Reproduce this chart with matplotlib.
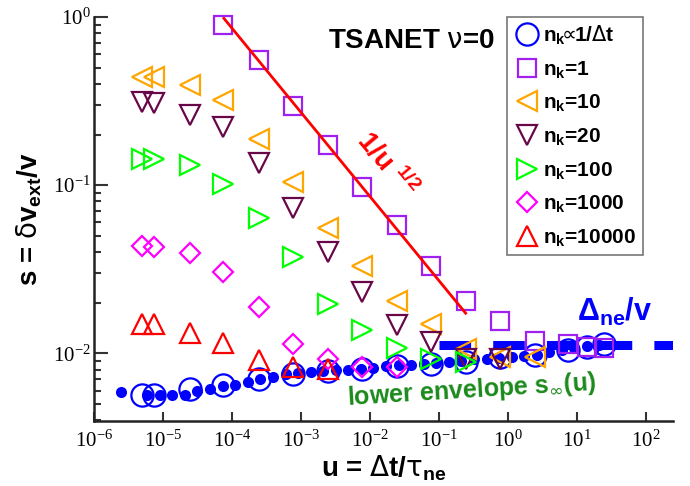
import matplotlib
matplotlib.use('Agg')
import matplotlib.pyplot as plt
from matplotlib.font_manager import FontProperties
from matplotlib.ticker import LogLocator, NullLocator

plt.rcParams['font.family'] = ['Liberation Serif', 'DejaVu Serif']
plt.rcParams['mathtext.fontset'] = 'dejavusans'

# time steps u = dt/tau_ne shared by the n_k series
u_vals = [4.96e-6, 7.41e-6, 2.46e-5, 7.5e-5, 2.46e-4, 7.66e-4, 2.46e-3, 7.66e-3,
          2.46e-2, 7.66e-2, 0.246, 0.766, 2.46, 7.41, 14.0, 24.6]

# n_k ~ 1/dt (open circles)
s_inv = [0.00562, 0.00568, 0.00615, 0.00645, 0.0070, 0.00757, 0.00784, 0.0081,
         0.00837, 0.00868, 0.00887, 0.0095, 0.0098, 0.0104, 0.0109, 0.0113]
# n_k = 1 (starts at 4th u value)
s_nk1 = [0.896, 0.555, 0.295, 0.174, 0.0977, 0.0578, 0.033, 0.0204, 0.0156,
         0.0119, 0.0113, 0.0109, 0.0107]
s_nk10 = [0.438, 0.438, 0.394, 0.321, 0.187, 0.105, 0.0552, 0.033, 0.0204,
          0.0149, 0.0106, 0.0095, 0.0095]
s_nk20 = [0.312, 0.306, 0.261, 0.222, 0.135, 0.0727, 0.0401, 0.0231, 0.0147,
          0.0117, 0.0093, 0.0092]
s_nk100 = [0.143, 0.143, 0.1315, 0.1014, 0.0633, 0.0376, 0.0197, 0.0137, 0.0107,
           0.0093, 0.0089]
s_nk1000 = [0.0434, 0.0430, 0.0392, 0.0305, 0.0189, 0.0114, 0.0092, 0.0083, 0.0083]
s_nk10000 = [0.0150, 0.0149, 0.0131, 0.0115, 0.0091, 0.0083, 0.0081]

# lower envelope s_inf(u) (filled dots)
u_dots = [2.46e-6, 5.92e-6, 9.02e-6, 1.37e-5, 2.08e-5, 3.17e-5, 4.83e-5, 7.36e-5,
          1.12e-4, 1.71e-4, 2.6e-4, 3.94e-4, 6.0e-4, 9.14e-4, 1.39e-3, 2.11e-3,
          3.22e-3, 4.88e-3, 7.43e-3, 0.0113, 0.0172, 0.0262, 0.0398, 0.0606,
          0.0923, 0.1405, 0.213, 0.325, 0.495, 0.753, 1.14, 1.74, 2.65, 4.02,
          6.12, 9.32, 14.2, 21.5]
s_dots = [0.00588, 0.00568, 0.00562, 0.00562, 0.00568, 0.00594, 0.00616, 0.00636,
          0.00651, 0.00675, 0.0070, 0.00717, 0.00757, 0.00765, 0.00774, 0.00781,
          0.00792, 0.0080, 0.00808, 0.00822, 0.00837, 0.00848, 0.00848, 0.0086,
          0.00875, 0.00887, 0.00896, 0.00921, 0.0093, 0.00938, 0.00951, 0.00964,
          0.00973, 0.0101, 0.0104, 0.01067, 0.0110, 0.01126]

# 1/u^(1/2) guide line and Delta_ne/v level
u_fit = [7.66e-5, 0.246]
s_fit = [0.982, 0.0173]
u_delta = [0.1, 1000.0]
s_delta = 0.0112

fig = plt.figure(figsize=(6.9, 4.86), dpi=100)
ax = fig.add_axes([0.1362, 0.1337, 0.8391, 0.8313])
ax.set_xscale('log')
ax.set_yscale('log')

ax.plot(u_dots, s_dots, 'o', color='#0000ff', ms=8, mec='none', zorder=2)
ax.plot(u_delta, [s_delta, s_delta], color='#0000ff', lw=6.5,
        dashes=(3.5, 2.45), solid_capstyle='butt', zorder=2.5)

mk = dict(ls='none', mfc='none', mew=1.6, zorder=3, clip_on=False)
ax.plot(u_vals, s_inv, 'o', mec='#0000ff', ms=16,
        label='n$_\\mathregular{k}$$\\!\\!\\propto\\!\\!$1/$\\mathrm{\\Delta}$t', **mk)
ax.plot(u_vals[3:], s_nk1, 's', mec='#a020f0', ms=13.5,
        label='n$_\\mathregular{k}$=1', **mk)
ax.plot(u_vals[:len(s_nk10)], s_nk10, '<', mec='#ffa500', ms=14,
        label='n$_\\mathregular{k}$=10', **mk)
ax.plot(u_vals[:len(s_nk20)], s_nk20, 'v', mec='#670748', ms=14,
        label='n$_\\mathregular{k}$=20', **mk)
ax.plot(u_vals[:len(s_nk100)], s_nk100, '>', mec='#00ff00', ms=14,
        label='n$_\\mathregular{k}$=100', **mk)
ax.plot(u_vals[:len(s_nk1000)], s_nk1000, 'D', mec='#ff00ff', ms=10,
        label='n$_\\mathregular{k}$=1000', **mk)
ax.plot(u_vals[:len(s_nk10000)], s_nk10000, '^', mec='#ff0000', ms=14,
        label='n$_\\mathregular{k}$=10000', **mk)

ax.plot(u_fit, s_fit, color='#ff0000', lw=2, zorder=4)

ax.set_xlim(1e-6, 250)
ax.set_ylim(0.00395, 1.0)

sans = ['Liberation Sans', 'DejaVu Sans']
ax.set_xlabel('u = $\\mathrm{\\Delta}$t/$\\mathrm{\\tau}_\\mathregular{ne}$',
              family=sans, weight='bold', fontsize=20, va='baseline')
ax.xaxis.set_label_coords(0.5, -0.136)
ax.set_ylabel('s = $\\mathrm{\\delta}$v$_\\mathregular{ext}$/v', family=sans,
              weight='bold', fontsize=20, va='center')
ax.yaxis.set_label_coords(-0.112, 0.5)

ax.text(0.404, 0.923, 'TSANET $\\mathrm{\\nu}$=0', transform=ax.transAxes,
        family=sans, weight='bold', fontsize=20, va='baseline')
ax.text(0.506, 0.636, '1/u $^\\mathregular{1/2}$', transform=ax.transAxes,
        family=sans, weight='bold', fontsize=20, color='#ff0000',
        rotation=-50, rotation_mode='anchor', ha='center', va='center')
ax.text(0.834, 0.2475, 'Δ$_\\mathregular{ne}$/v', transform=ax.transAxes,
        family=sans, weight='bold', fontsize=22, color='#0000ff', va='baseline')
ax.text(0.653, 0.077, 'lower envelope s$_\\infty$(u)', transform=ax.transAxes,
        family=sans, weight='bold', fontsize=18, color='#1b8a1b',
        rotation=3.5, rotation_mode='anchor', ha='center', va='center')

leg = ax.legend(loc='upper left', bbox_to_anchor=(0.713, 1.0),
                prop=FontProperties(family=sans, weight='bold', size=15),
                numpoints=1, fancybox=False, framealpha=1, borderpad=0.3,
                labelspacing=0.58, handlelength=1.3, handletextpad=0.15,
                borderaxespad=0)
leg.get_frame().set_edgecolor('#777777')
leg.get_frame().set_linewidth(1.2)

ax.xaxis.set_major_locator(LogLocator(base=10, numticks=20))
ax.xaxis.set_minor_locator(NullLocator())
ax.tick_params(which='both', direction='in', color='#333333', width=1.5)
ax.tick_params(axis='y', which='major', length=10, pad=2, labelsize=15)
ax.tick_params(axis='y', which='minor', length=5)
ax.tick_params(axis='x', which='major', length=6.5, pad=7, labelsize=15)
ax.spines[['top', 'right']].set_visible(False)
for side in ['left', 'bottom']:
    ax.spines[side].set_linewidth(1.8)
    ax.spines[side].set_color('#222222')

fig.savefig('out.png', dpi=100)
